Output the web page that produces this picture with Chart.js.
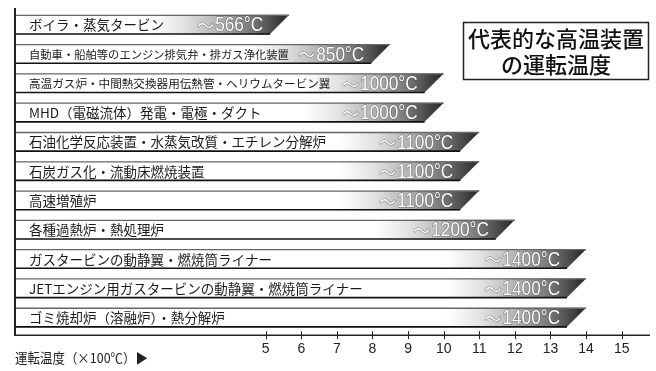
<!DOCTYPE html>
<html><head><meta charset="utf-8">
<script src="https://cdn.jsdelivr.net/npm/chart.js@4.4.1/dist/chart.umd.min.js"></script>
<style>html,body{margin:0;padding:0;background:#fff;overflow:hidden}#wrap{width:656px;height:371px;position:relative}</style>
</head><body><div id="wrap"><canvas id="c" width="656" height="371"></canvas></div>
<script>
// ---- data ----
const categories = [
  'ボイラ・蒸気タービン',
  '自動車・船舶等のエンジン排気弁・排ガス浄化装置',
  '高温ガス炉・中間熱交換器用伝熱管・ヘリウムタービン翼',
  'MHD（電磁流体）発電・電極・ダクト',
  '石油化学反応装置・水蒸気改質・エチレン分解炉',
  '石炭ガス化・流動床燃焼装置',
  '高速増殖炉',
  '各種過熱炉・熱処理炉',
  'ガスタービンの動静翼・燃焼筒ライナー',
  'JETエンジン用ガスタービンの動静翼・燃焼筒ライナー',
  'ゴミ焼却炉（溶融炉）・熱分解炉'
];
const temperatures = [566, 850, 1000, 1000, 1100, 1100, 1100, 1200, 1400, 1400, 1400];
const xTickValues = [5, 6, 7, 8, 9, 10, 11, 12, 13, 14, 15];
const titleLines = ['代表的な高温装置', 'の運転温度'];
const axisTitle = '運転温度（×100℃）▶';

// ---- styles ----
const labelFontSizes = [13.5, 11.3, 11.6, 13.5, 13.5, 13.5, 13.5, 13.5, 13.5, 13.5, 13.5];
const JP = '"Noto Sans CJK JP", "Noto Sans", sans-serif';
const LAT = '"Liberation Sans", Arial, sans-serif';

const values = temperatures.map(t => t / 100);

const decor = {
  id: 'decor',
  afterDatasetsDraw(chart) {
    const ctx = chart.ctx;
    const area = chart.chartArea;
    const L = area.left;
    const meta = chart.getDatasetMeta(0);
    ctx.save();
    meta.data.forEach((el, i) => {
      const p = el.getProps(['x', 'y', 'height'], true);
      const V = p.x, h = p.height, T = p.y - h / 2, B = p.y + h / 2, s = h;
      const g = ctx.createLinearGradient(V - 140, 0, V, 0);
      g.addColorStop(0, '#ffffff');
      g.addColorStop(0.25, '#e2e2e2');
      g.addColorStop(0.5, '#b2b2b2');
      g.addColorStop(0.75, '#747474');
      g.addColorStop(0.9, '#444444');
      g.addColorStop(1, '#252525');
      ctx.beginPath();
      ctx.moveTo(L, T); ctx.lineTo(V, T); ctx.lineTo(V - s, B); ctx.lineTo(L, B); ctx.closePath();
      ctx.fillStyle = g; ctx.fill();
      ctx.lineWidth = 1.3; ctx.strokeStyle = '#666';
      ctx.beginPath(); ctx.moveTo(L, T + 0.5); ctx.lineTo(V, T + 0.5); ctx.stroke();
      ctx.lineWidth = 1.6; ctx.strokeStyle = '#111';
      ctx.beginPath(); ctx.moveTo(L, B - 0.5); ctx.lineTo(V - s + 0.5, B - 0.5); ctx.stroke();
      // category label
      ctx.font = labelFontSizes[i] + 'px ' + JP;
      ctx.fillStyle = '#1a1a1a';
      ctx.textAlign = 'left'; ctx.textBaseline = 'middle';
      ctx.fillText(categories[i], L + 15, p.y + 0.5);
      // value label: number part (condensed) + wave dash
      const num = temperatures[i] + '°C';
      ctx.font = '21px ' + LAT;
      const w = ctx.measureText(num).width * 0.82;
      const right = V - 26;
      ctx.textAlign = 'right';
      ctx.lineWidth = 1; ctx.strokeStyle = 'rgba(40,40,40,0.55)';
      ctx.strokeText(num, right, p.y + 1, w);
      ctx.fillStyle = '#ffffff';
      ctx.fillText(num, right, p.y + 1, w);
      ctx.font = '17px ' + JP;
      ctx.strokeText('〜', right - w - 1, p.y + 1);
      ctx.fillText('〜', right - w - 1, p.y + 1);
    });
    ctx.restore();
  },
  afterDraw(chart) {
    const ctx = chart.ctx;
    const area = chart.chartArea;
    const xs = chart.scales.x;
    const axisY = area.bottom + 3;
    ctx.save();
    // left vertical line
    ctx.strokeStyle = '#222'; ctx.lineWidth = 2;
    ctx.beginPath(); ctx.moveTo(area.left + 1, 8); ctx.lineTo(area.left + 1, axisY); ctx.stroke();
    // axis line
    ctx.lineWidth = 1.5;
    ctx.beginPath(); ctx.moveTo(area.left, axisY); ctx.lineTo(area.right, axisY); ctx.stroke();
    ctx.lineWidth = 1;
    xTickValues.forEach(v => {
      const x = Math.round(xs.getPixelForValue(v)) + 0.5;
      ctx.beginPath(); ctx.moveTo(x, axisY - 4); ctx.lineTo(x, axisY + 4); ctx.stroke();
    });
    // axis title
    ctx.fillStyle = '#222';
    ctx.font = '13.5px ' + JP;
    ctx.textAlign = 'left'; ctx.textBaseline = 'middle';
    ctx.fillText(axisTitle, 15, 358, 133);
    // title box
    ctx.lineWidth = 1.5; ctx.strokeStyle = '#222';
    ctx.strokeRect(463.5, 22.5, 185, 57);
    ctx.font = '500 22px ' + JP;
    ctx.textAlign = 'center';
    ctx.fillStyle = '#111';
    ctx.fillText(titleLines[0], 556, 39);
    ctx.fillText(titleLines[1], 556, 65);
    ctx.restore();
  }
};

new Chart(document.getElementById('c'), {
  type: 'bar',
  data: {
    labels: categories,
    datasets: [{
      data: values,
      backgroundColor: 'rgba(0,0,0,0)',
      borderWidth: 0,
      categoryPercentage: 1,
      barPercentage: 0.67
    }]
  },
  options: {
    indexAxis: 'y',
    responsive: false,
    animation: false,
    events: [],
    layout: { padding: { left: 14, right: 6, top: 10, bottom: 4 } },
    plugins: { legend: { display: false }, tooltip: { enabled: false } },
    scales: {
      y: { type: 'category', display: false },
      x: {
        type: 'linear', min: -2.07, max: 15.795,
        grid: { display: false, drawTicks: false },
        border: { display: false },
        afterBuildTicks: (s) => { s.ticks = xTickValues.map(v => ({ value: v })); },
        ticks: {
          autoSkip: false, maxRotation: 0, padding: 9,
          color: '#222',
          font: { family: LAT, size: 14 },
          callback: (v) => String(v)
        }
      }
    }
  },
  plugins: [decor]
});
</script>
</body></html>
